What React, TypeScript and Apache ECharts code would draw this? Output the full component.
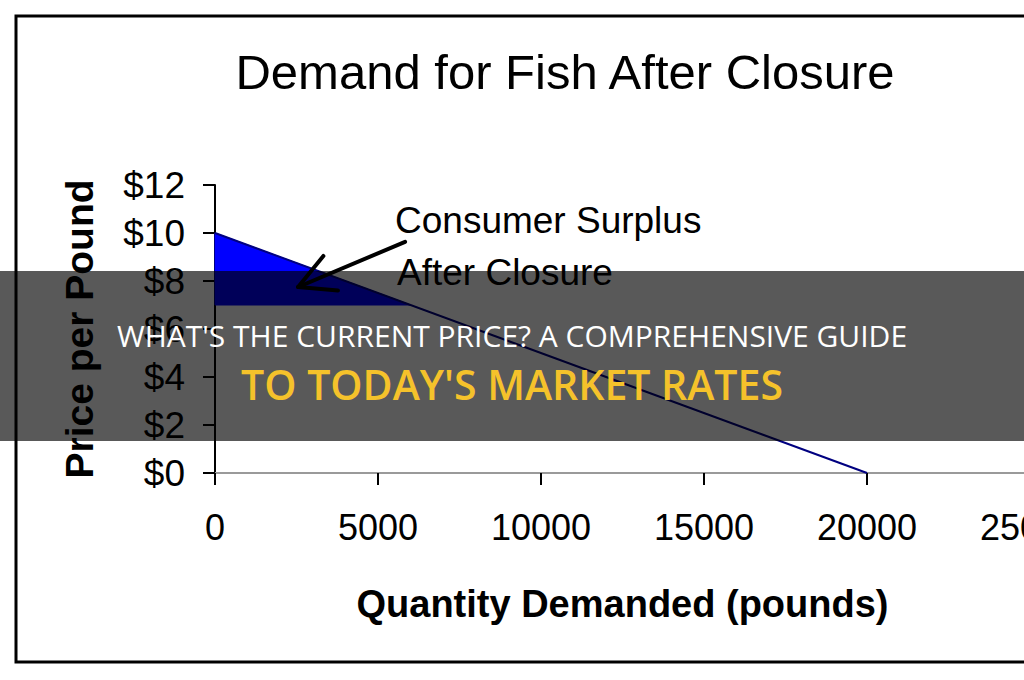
import React, { useEffect, useRef } from "react";
import * as echarts from "echarts";

const titleText = "Demand for Fish After Closure";
const xAxisName = "Quantity Demanded (pounds)";
const yAxisName = "Price per Pound";
const xTicks = { min: 0, max: 25000, interval: 5000 };
const yTicks = { min: 0, max: 12, interval: 2 };
const demandQ = [0, 20000];
const demandP = [10, 0];
const surplusQ = [0, 6000, 0];
const surplusP = [10, 7, 7];
const arrowFrom = [5830, 9.63];
const arrowTo = [2550, 7.75];
const annotationLines = ["Consumer Surplus", "After Closure"];
const bannerLine1 = "WHAT'S THE CURRENT PRICE? A COMPREHENSIVE GUIDE";
const bannerLine2 = "TO TODAY'S MARKET RATES";

const FONT = "'Liberation Sans', Arial, sans-serif";

export default function App() {
  const ref = useRef<HTMLDivElement>(null);
  useEffect(() => {
    if (!ref.current) return;
    const chart = echarts.init(ref.current, null, { renderer: "svg" });
    const demandData = demandQ.map((q, i) => [q, demandP[i]]);
    const surplusData = [surplusQ.map((q, i) => [q, surplusP[i]])];
    const option: any = {
      animation: false,
      backgroundColor: "#ffffff",
      textStyle: { fontFamily: FONT },
      grid: { left: 215, top: 185, width: 815, height: 288, containLabel: false, outerBoundsMode: "none" },
      xAxis: [
        {
          type: "value",
          min: xTicks.min,
          max: xTicks.max,
          interval: xTicks.interval,
          name: xAxisName,
          nameLocation: "middle",
          nameGap: 112,
          nameTextStyle: { fontSize: 38, fontWeight: "bold", color: "#000", fontFamily: FONT },
          axisLine: { show: true, onZero: false, lineStyle: { color: "#000", width: 2 } },
          axisTick: { show: true, length: 12, lineStyle: { color: "#000", width: 2 } },
          axisLabel: {
            fontSize: 36,
            color: "#000",
            margin: 36,
            fontFamily: FONT,
            showMaxLabel: true,
            hideOverlap: false,
            formatter: (v: number) => String(v),
          },
          splitLine: { show: false },
        },
        {
          type: "value",
          position: "top",
          min: xTicks.min,
          max: xTicks.max,
          axisLine: { show: true, lineStyle: { color: "#9a9a9a", width: 2 } },
          axisTick: { show: false },
          axisLabel: { show: false },
          splitLine: { show: false },
        },
      ],
      yAxis: {
        type: "value",
        min: yTicks.min,
        max: yTicks.max,
        interval: yTicks.interval,
        name: yAxisName,
        nameLocation: "middle",
        nameGap: 116,
        nameRotate: 90,
        nameTextStyle: { fontSize: 39, fontWeight: "bold", color: "#000", fontFamily: FONT },
        axisLine: { show: true, lineStyle: { color: "#000", width: 2 } },
        axisTick: { show: true, length: 12, lineStyle: { color: "#000", width: 2 } },
        axisLabel: { fontSize: 37, color: "#000", margin: 30, fontFamily: FONT, formatter: (v: number) => "$" + v },
        splitLine: { show: false },
      },
      series: [
        {
          type: "custom",
          name: "surplus",
          coordinateSystem: "cartesian2d",
          data: surplusData,
          renderItem: (params: any, api: any) => {
            const pts = surplusData[params.dataIndex].map((p) => api.coord(p));
            return { type: "polygon", shape: { points: pts }, style: { fill: "#0000ff", stroke: "#0000ff", lineWidth: 1 } };
          },
          z: 1,
        },
        {
          type: "line",
          name: "demand",
          data: demandData,
          showSymbol: false,
          symbol: "none",
          lineStyle: { color: "#000080", width: 2 },
          z: 2,
        },
        {
          type: "custom",
          name: "arrow",
          coordinateSystem: "cartesian2d",
          data: [[arrowFrom[0], arrowFrom[1], arrowTo[0], arrowTo[1]]],
          renderItem: (params: any, api: any) => {
            const a = api.coord([api.value(0), api.value(1)]);
            const b = api.coord([api.value(2), api.value(3)]);
            const ang = Math.atan2(a[1] - b[1], a[0] - b[0]);
            const len = 40;
            const spread = (28 * Math.PI) / 180;
            const h1 = [b[0] + len * Math.cos(ang - spread), b[1] + len * Math.sin(ang - spread)];
            const h2 = [b[0] + len * Math.cos(ang + spread), b[1] + len * Math.sin(ang + spread)];
            const st = { stroke: "#000", lineWidth: 4, lineCap: "round" };
            return {
              type: "group",
              children: [
                { type: "line", shape: { x1: a[0], y1: a[1], x2: b[0], y2: b[1] }, style: st },
                { type: "line", shape: { x1: b[0], y1: b[1], x2: h1[0], y2: h1[1] }, style: st },
                { type: "line", shape: { x1: b[0], y1: b[1], x2: h2[0], y2: h2[1] }, style: st },
              ],
            };
          },
          z: 3,
        },
      ],
      graphic: [
        {
          type: "rect",
          shape: { x: 16, y: 16, width: 1040, height: 646 },
          style: { fill: "none", stroke: "#000", lineWidth: 3 },
          z: 10,
        },
        {
          type: "text",
          x: 565,
          y: 72,
          style: { text: titleText, font: `49px ${FONT}`, fill: "#000", textAlign: "center", textVerticalAlign: "middle" },
          z: 10,
        },
        {
          type: "text",
          x: 395,
          y: 220,
          style: { text: annotationLines[0], font: `37px ${FONT}`, fill: "#000", textAlign: "left", textVerticalAlign: "middle" },
          z: 10,
        },
        {
          type: "text",
          x: 397,
          y: 272,
          style: { text: annotationLines[1], font: `37px ${FONT}`, fill: "#000", textAlign: "left", textVerticalAlign: "middle" },
          z: 10,
        },
        {
          type: "rect",
          shape: { x: 0, y: 271, width: 1024, height: 170 },
          style: { fill: "rgba(0,0,0,0.65)" },
          z: 100,
        },
        {
          type: "text",
          x: 512,
          y: 335,
          style: { text: bannerLine1, font: `30px 'Open Sans', sans-serif`, fill: "#ffffff", textAlign: "center", textVerticalAlign: "middle" },
          z: 101,
        },
        {
          type: "text",
          x: 512,
          y: 384,
          style: { text: bannerLine2, font: `600 41px 'Open Sans', sans-serif`, fill: "#f5c22b", textAlign: "center", textVerticalAlign: "middle" },
          z: 101,
        },
      ],
    };
    chart.setOption(option);
    return () => chart.dispose();
  }, []);
  return <div ref={ref} style={{ position: "fixed", left: 0, top: 0, width: 1024, height: 680 }} />;
}
